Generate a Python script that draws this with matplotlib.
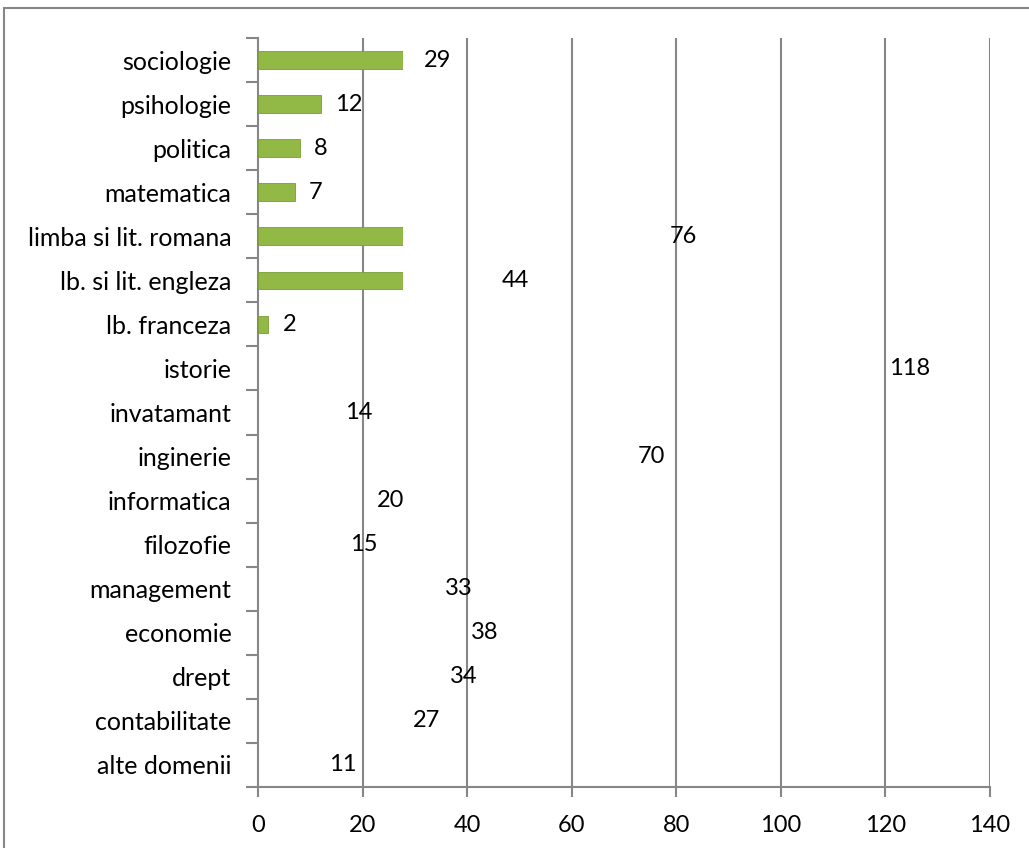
import numpy as np
import matplotlib
matplotlib.use("Agg")
import matplotlib.pyplot as plt
from matplotlib.patches import Rectangle

# categories top to bottom, as shown in the chart
categories = ["sociologie", "psihologie", "politica", "matematica",
              "limba si lit. romana", "lb. si lit. engleza", "lb. franceza",
              "istorie", "invatamant", "inginerie", "informatica", "filozofie",
              "management", "economie", "drept", "contabilitate", "alte domenii"]
values = [29, 12, 8, 7, 76, 44, 2, 118, 14, 70, 20, 15, 33, 38, 34, 27, 11]

# the original rendering only shows bars in this window (glitchy export)
visible_rows = 7
visible_xmax = 27.7

xticks = [0, 20, 40, 60, 80, 100, 120, 140]

plt.rcParams['font.family'] = ['Lato', 'DejaVu Sans']
grey = '#878787'

W, H = 1029, 848
fig = plt.figure(figsize=(W / 100, H / 100), dpi=100)
ax = fig.add_axes([258 / W, 1 - 787 / H, (990 - 258) / W, (787 - 38) / H])

# outer chart border
fig.patches.append(Rectangle((4 / W, -0.2), 2, 1 - 8 / H + 0.2, transform=fig.transFigure,
                             fill=False, edgecolor=grey, lw=1.5))

y = np.arange(len(categories))
bars = ax.barh(y, values, height=0.4, color='#92b846', edgecolor='#7a9c36', lw=0.6, zorder=3)

clip = Rectangle((-1, -0.5), visible_xmax + 1, visible_rows, transform=ax.transData)
for b in bars:
    b.set_clip_path(clip)

for yi, v in zip(y, values):
    ax.annotate(str(v), (v, yi), xytext=(14, 0), textcoords='offset pixels',
                ha='left', va='center', fontsize=17, zorder=4)

ax.set_xlim(0, 140)
ax.set_ylim(len(categories) - 0.5, -0.5)
ax.set_xticks(xticks)
ax.set_xticklabels([str(t) for t in xticks])
ax.set_yticks(y)
ax.set_yticklabels(categories)
ax.set_yticks(np.arange(len(categories) + 1) - 0.5, minor=True)

for xv in xticks[1:]:
    ax.axvline(xv, color=grey, lw=1.5, zorder=1)

for s in ['top', 'right']:
    ax.spines[s].set_visible(False)
for s in ['left', 'bottom']:
    ax.spines[s].set_color(grey)
    ax.spines[s].set_linewidth(1.5)

ax.tick_params(axis='y', which='major', length=0, pad=19, labelsize=18)
ax.tick_params(axis='y', which='minor', length=9, width=1.5, color=grey)
ax.tick_params(axis='x', which='major', length=7, width=1.5, color=grey, pad=13, labelsize=17)

fig.savefig('out.png', dpi=100)
